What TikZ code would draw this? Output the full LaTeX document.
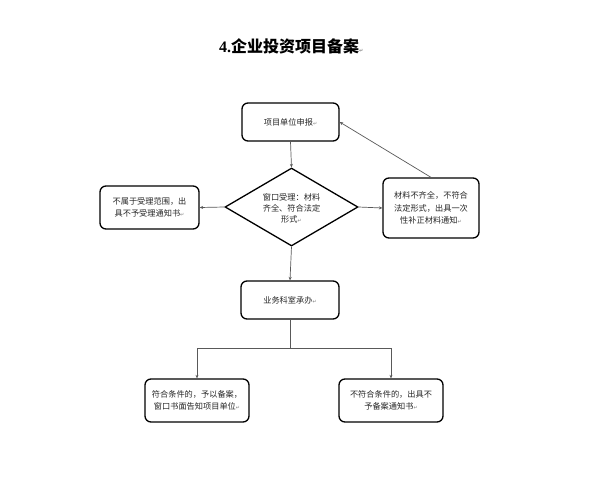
\documentclass[tikz,border=0pt]{standalone}
\usepackage{fontspec}
\setmainfont{Liberation Serif}
\newfontfamily\cjk{Noto Sans CJK SC}
\newfontfamily\cjkb{Noto Sans CJK SC Bold}
\newfontfamily\symf{DejaVu Sans}
\usetikzlibrary{shapes.geometric,arrows.meta}
\newcommand\pmk{{\symf\fontsize{5}{5}\selectfont\textcolor{gray}{↵}}}
\begin{document}
\begin{tikzpicture}[x=1pt,y=-1pt,
  box/.style={draw=black, line width=1.3pt, rounded corners=6pt, align=center,
    font=\cjk\fontsize{8.2}{12.5}\selectfont, text=black!85, inner sep=2pt},
  conn/.style={draw=black!65, line width=0.7pt},
  arr/.style={conn, -{Stealth[length=3.5pt,width=3pt]}}]
\useasboundingbox (0,0) rectangle (600,493);
\fill[white] (0,0) rectangle (600,493);
% title
\node[anchor=west, inner sep=0] (title) at (219,46)
  {\fontsize{16}{16}\selectfont\bfseries 4.\cjkb 企业投资项目备案\pmk};
% nodes
\node[box, minimum width=97pt, minimum height=38pt] (apply) at (290.5,122) {项目单位申报\pmk};
\node[diamond, draw=black, line width=1.3pt, minimum width=133pt, minimum height=78pt, inner sep=0] (acc) at (291.5,207) {};
\node[align=center, font=\cjk\fontsize{8.2}{11}\selectfont, text=black!85] (acct) at (291.5,208)
  {窗口受理：材料\\齐全、符合法定\\形式\pmk};
\node[box, minimum width=99pt, minimum height=43pt] (rej) at (149.5,207.5)
  {不属于受理范围，出\\具不予受理通知书\pmk};
\node[box, minimum width=96pt, minimum height=60pt] (supp) at (431,208)
  {材料不齐全，不符合\\法定形式，出具一次\\性补正材料通知\pmk};
\node[box, minimum width=98pt, minimum height=38pt] (dept) at (290,300) {业务科室承办\pmk};
\node[box, minimum width=104pt, minimum height=43pt] (ok) at (197,400.5)
  {符合条件的，予以备案，\\窗口书面告知项目单位\pmk};
\node[box, minimum width=104pt, minimum height=43pt] (no) at (391,400.5)
  {不符合条件的，出具不\\予备案通知书\pmk};
\coordinate (br) at (290,348);
% connectors
\draw[arr] (apply.south) -- (acc.north);
\draw[arr] (acc.west) -- (rej.east);
\draw[arr] (acc.east) -- (supp.west);
\draw[arr] (supp.north) -- (apply.east);
\draw[arr] (acc.south) -- (dept.north);
\draw[conn] (dept.south) -- (br);
\draw[arr] (br) -| (ok.north);
\draw[arr] (br) -| (no.north);
\end{tikzpicture}
\end{document}
